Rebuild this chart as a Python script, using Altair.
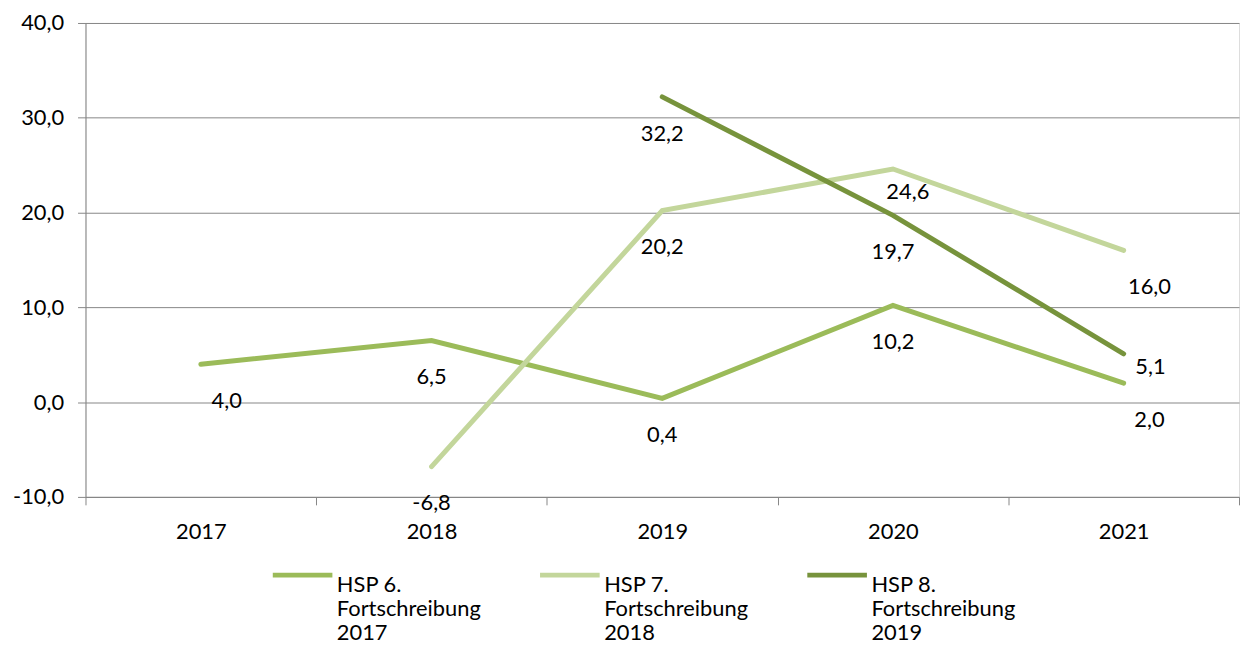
import altair as alt
import pandas as pd

years = ["2017", "2018", "2019", "2020", "2021"]
series_names = [
    "HSP 6. Fortschreibung 2017",
    "HSP 7. Fortschreibung 2018",
    "HSP 8. Fortschreibung 2019",
]
hsp6 = [4.0, 6.5, 0.4, 10.2, 2.0]
hsp7 = [None, -6.8, 20.2, 24.6, 16.0]
hsp8 = [None, None, 32.2, 19.7, 5.1]
colors = ["#9BBB59", "#C3D69B", "#77933C"]

rows = []
for name, vals in zip(series_names, [hsp6, hsp7, hsp8]):
    for y, v in zip(years, vals):
        if v is None:
            continue
        txt = ("-" if v < 0 else "") + f"{abs(v):.1f}".replace(".", ",")
        rows.append({"year": y, "series": name, "value": v, "label": txt})
df = pd.DataFrame(rows)

# label nudges (style only): default below the point
def nudge(r):
    if r["series"].startswith("HSP 8") and r["year"] == "2021":
        return "b"
    if r["series"].startswith("HSP 7") and r["year"] == "2020":
        return "c"
    if r["year"] in ("2017", "2021"):
        return "a"
    return "n"
df["nudge"] = df.apply(nudge, axis=1)

FONT = "Lato"
FS = 22
GRAY = "#868686"

x_enc = alt.X(
    "year:N",
    scale=alt.Scale(type="band", paddingInner=0, paddingOuter=0),
    bandPosition=0.5,
    axis=alt.Axis(
        title=None, tickBand="extent", domainColor=GRAY, tickColor=GRAY,
        tickSize=8, labelPadding=17, labelAngle=0, grid=False,
        labelFont=FONT, labelFontSize=FS, labelColor="#000000",
    ),
)
y_enc = alt.Y(
    "value:Q",
    scale=alt.Scale(domain=[-10, 40], nice=False, zero=False),
    axis=alt.Axis(
        title=None, values=[-10, 0, 10, 20, 30, 40],
        labelExpr="(datum.value < 0 ? '-' : '') + replace(format(abs(datum.value), '.1f'), '.', ',')",
        domainColor=GRAY, tickColor=GRAY, gridColor=GRAY, grid=True,
        tickSize=8, labelPadding=14, labelFont=FONT, labelFontSize=FS,
        labelColor="#000000",
    ),
)

base = alt.Chart(df)

lines = base.mark_line(strokeWidth=5, strokeCap="round", strokeJoin="miter").encode(
    x=x_enc,
    y=y_enc,
    color=alt.Color(
        "series:N",
        scale=alt.Scale(domain=series_names, range=colors),
        legend=alt.Legend(
            title=None, orient="none", legendX=186, legendY=523,
            direction="horizontal", columns=3, columnPadding=49,
            symbolType="stroke", symbolSize=3600, symbolStrokeWidth=5,
            labelFont=FONT, labelFontSize=FS, labelColor="#000000",
            labelLimit=400, labelOffset=2, labelBaseline="top",
            padding=0,
            labelExpr="[slice(datum.label, 0, 6), slice(datum.label, 7, 21), slice(datum.label, 22)]",
        ),
    ),
    detail="series:N",
)

offsets = {"n": (0, 37), "a": (26, 37), "b": (27, 13), "c": (15, 23)}
label_layers = []
for key, (dx, dy) in offsets.items():
    label_layers.append(
        base.transform_filter(alt.datum.nudge == key)
        .mark_text(font=FONT, fontSize=FS, color="#000000", dx=dx, dy=dy,
                   align="center", baseline="middle")
        .encode(x=alt.X("year:N", bandPosition=0.5), y="value:Q", text="label:N")
    )

chart = alt.layer(lines, *label_layers).properties(
    width=1161, height=477,
    padding={"left": 4, "top": 2, "right": 0, "bottom": 0},
).configure_view(stroke=None).configure(background="#ffffff")

chart.save("out.html", embed_options={"renderer": "svg", "actions": False})
